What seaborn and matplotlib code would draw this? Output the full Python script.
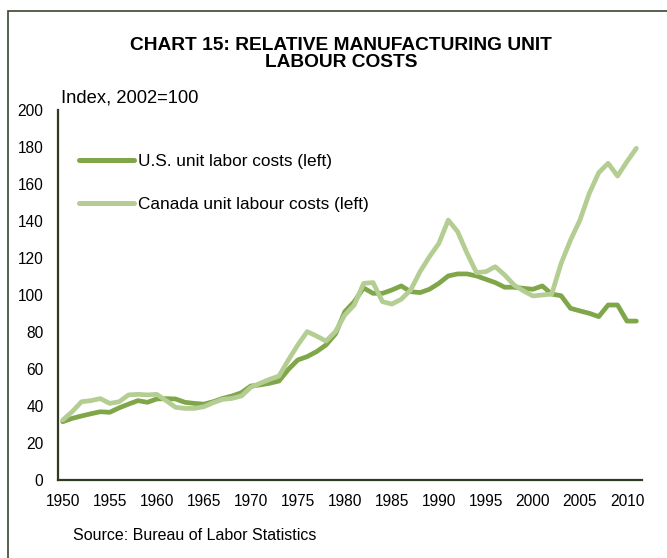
import matplotlib
matplotlib.use("Agg")
import matplotlib.pyplot as plt
import seaborn as sns
import pandas as pd
import numpy as np
from matplotlib.patches import Rectangle

years = list(range(1950, 2012))
us_ulc = [31.5, 33.3, 34.6, 35.8, 36.9, 36.6, 39.0, 41.0, 42.9, 42.0,
          43.8, 44.0, 43.8, 42.0, 41.4, 41.0, 42.3, 44.1, 45.4, 47.2,
          50.8, 51.4, 52.3, 53.5, 59.8, 64.9, 66.7, 69.4, 73.0, 78.9,
          91.0, 96.4, 103.8, 100.9, 100.9, 102.7, 104.9, 101.8, 101.3, 103.1,
          106.3, 110.3, 111.4, 111.4, 110.3, 108.5, 106.7, 104.2, 104.2, 103.6,
          103.1, 104.9, 100.5, 99.6, 92.8, 91.4, 90.1, 88.3, 94.6, 94.6,
          85.9, 85.9]
canada_ulc = [32.4, 36.9, 42.3, 42.9, 44.0, 41.4, 42.3, 46.0, 46.3, 46.0,
              46.3, 42.9, 39.3, 38.7, 38.7, 39.6, 41.8, 43.6, 44.1, 45.4,
              50.1, 52.3, 54.4, 56.2, 64.9, 73.0, 80.2, 77.8, 75.1, 80.2,
              89.2, 94.6, 106.3, 106.7, 96.4, 95.1, 97.7, 102.7, 112.6, 120.7,
              127.9, 140.5, 134.2, 122.5, 112.1, 112.6, 115.3, 110.8, 105.4, 102.2,
              99.5, 100.0, 100.5, 117.1, 129.7, 140.5, 155.0, 166.1, 171.2, 164.3,
              172.1, 179.3]
series_names = ["U.S. unit labor costs (left)", "Canada unit labour costs (left)"]
y_ticks = list(range(0, 201, 20))
x_ticks = list(range(1950, 2011, 5))

df = pd.DataFrame({
    "year": years * 2,
    "value": us_ulc + canada_ulc,
    "series": [series_names[0]] * len(years) + [series_names[1]] * len(years),
})

sns.set_theme(style="white")
plt.rcParams["font.family"] = ["Liberation Sans", "DejaVu Sans"]
plt.rcParams["text.color"] = "black"

fig = plt.figure(figsize=(6.67, 5.58), dpi=100)
ax = fig.add_axes([58 / 667, 1 - 480 / 558, (642 - 58) / 667, (480 - 110) / 558])

palette = {series_names[0]: "#80a64a", series_names[1]: "#b4cd93"}
sns.lineplot(data=df, x="year", y="value", hue="series", palette=palette,
             hue_order=series_names, linewidth=3.4, ax=ax, legend=True)

ax.set_xlim(1949.5, 2011.6)
ax.set_ylim(0, 200)
ax.set_xticks(x_ticks)
ax.set_yticks(y_ticks)
ax.set_xlabel("")
ax.set_ylabel("")
ax.tick_params(axis="both", length=0, labelsize=11.2, colors="black")
ax.tick_params(axis="x", pad=10)
ax.tick_params(axis="y", pad=10.5)
for s in ["top", "right"]:
    ax.spines[s].set_visible(False)
for s in ["left", "bottom"]:
    ax.spines[s].set_color("#2f3a22")
    ax.spines[s].set_linewidth(1.6)

leg = ax.legend(loc="upper left", bbox_to_anchor=(0.025, 0.8996), frameon=False,
                fontsize=12.4, handlelength=3.15, handletextpad=0.25,
                labelspacing=1.62, borderaxespad=0)
for line in leg.get_lines():
    line.set_linewidth(3.6)
for t in leg.get_texts():
    t.set_color("black")

fig.text(341 / 667, 1 - 54 / 558, "CHART 15: RELATIVE MANUFACTURING UNIT\nLABOUR COSTS",
         ha="center", va="center", fontsize=13.8, fontweight="bold",
         linespacing=1.0, color="black")
fig.text(61 / 667, 1 - 98 / 558, "Index, 2002=100", ha="left", va="center",
         fontsize=13.2, color="black")
fig.text(73 / 667, 1 - 535 / 558, "Source: Bureau of Labor Statistics", ha="left",
         va="center", fontsize=11.5, color="black")

fig.patches.append(Rectangle((8 / 667, -0.1), 1.2, 1 - 11 / 558 + 0.1,
                             transform=fig.transFigure, fill=False,
                             edgecolor="#3a4530", linewidth=1.2))

fig.savefig("out.png", dpi=100)
